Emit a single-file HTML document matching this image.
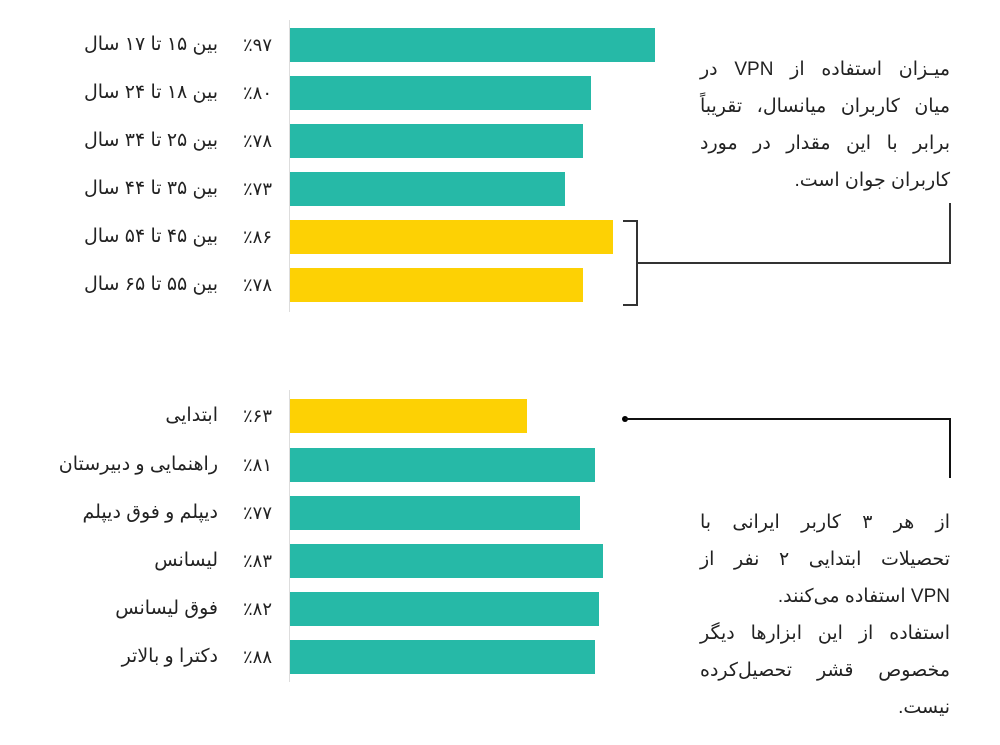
<!DOCTYPE html>
<html><head><meta charset="utf-8"><style>
body{margin:0;width:1000px;height:745px;background:#fff;position:relative;overflow:hidden;font-family:"Liberation Sans","DejaVu Sans",sans-serif;color:#222}
.b{position:absolute;left:290px;height:34px}
.g{background:#26b9a7}.y{background:#fdd104}
.l{position:absolute;right:782px;width:220px;text-align:right;font-size:19px;direction:rtl;line-height:34px}
.p{position:absolute;right:728px;width:50px;text-align:right;font-size:18px;line-height:34px;direction:rtl}
.ln{position:absolute;background:#333}
.t{position:absolute;right:50px;width:250px;direction:rtl;font-size:19px;line-height:37px}
.t div{text-align:justify;text-align-last:justify;height:37px}
.t div.e{text-align-last:right}
</style></head><body>
<div class="ln" style="left:289px;top:20px;width:1px;height:292px;background:#ddd"></div>
<div class="ln" style="left:289px;top:390px;width:1px;height:292px;background:#ddd"></div>

<div class="b g" style="top:28px;width:365px"></div>
<div class="b g" style="top:76px;width:301px"></div>
<div class="b g" style="top:124px;width:293px"></div>
<div class="b g" style="top:172px;width:275px"></div>
<div class="b y" style="top:220px;width:323px"></div>
<div class="b y" style="top:268px;width:293px"></div>
<div class="b y" style="top:399px;width:237px"></div>
<div class="b g" style="top:448px;width:305px"></div>
<div class="b g" style="top:496px;width:290px"></div>
<div class="b g" style="top:544px;width:313px"></div>
<div class="b g" style="top:592px;width:309px"></div>
<div class="b g" style="top:640px;width:305px"></div>

<div class="l" style="top:28px">بین ۱۵ تا ۱۷ سال</div><div class="p" style="top:28px">٪۹۷</div>
<div class="l" style="top:76px">بین ۱۸ تا ۲۴ سال</div><div class="p" style="top:76px">٪۸۰</div>
<div class="l" style="top:124px">بین ۲۵ تا ۳۴ سال</div><div class="p" style="top:124px">٪۷۸</div>
<div class="l" style="top:172px">بین ۳۵ تا ۴۴ سال</div><div class="p" style="top:172px">٪۷۳</div>
<div class="l" style="top:220px">بین ۴۵ تا ۵۴ سال</div><div class="p" style="top:220px">٪۸۶</div>
<div class="l" style="top:268px">بین ۵۵ تا ۶۵ سال</div><div class="p" style="top:268px">٪۷۸</div>
<div class="l" style="top:399px">ابتدایی</div><div class="p" style="top:399px">٪۶۳</div>
<div class="l" style="top:448px">راهنمایی و دبیرستان</div><div class="p" style="top:448px">٪۸۱</div>
<div class="l" style="top:496px">دیپلم و فوق دیپلم</div><div class="p" style="top:496px">٪۷۷</div>
<div class="l" style="top:544px">لیسانس</div><div class="p" style="top:544px">٪۸۳</div>
<div class="l" style="top:592px">فوق لیسانس</div><div class="p" style="top:592px">٪۸۲</div>
<div class="l" style="top:640px">دکترا و بالاتر</div><div class="p" style="top:640px">٪۸۸</div>

<div class="ln" style="left:623px;top:220px;width:14px;height:2px"></div>
<div class="ln" style="left:623px;top:304px;width:14px;height:2px"></div>
<div class="ln" style="left:636px;top:220px;width:2px;height:86px"></div>
<div class="ln" style="left:637px;top:262px;width:314px;height:2px"></div>
<div class="ln" style="left:949px;top:203px;width:2px;height:61px"></div>

<div class="ln" style="left:622px;top:416px;width:6px;height:6px;border-radius:50%;background:#000"></div>
<div class="ln" style="left:625px;top:418px;width:326px;height:2px;background:#111"></div>
<div class="ln" style="left:949px;top:418px;width:2px;height:60px;background:#111"></div>

<div class="t" style="top:51px">
<div>میـزان استفاده از VPN در</div>
<div>میان کاربران میانسال، تقریباً</div>
<div>برابر با این مقدار در مورد</div>
<div class="e">کاربران جوان است.</div>
</div>
<div class="t" style="top:504px">
<div>از هر ۳ کاربر ایرانی با</div>
<div>تحصیلات ابتدایی ۲ نفر از</div>
<div class="e">VPN استفاده می‌کنند.</div>
<div>استفاده از این ابزارها دیگر</div>
<div>مخصوص قشر تحصیل‌کرده</div>
<div class="e">نیست.</div>
</div>
</body></html>
